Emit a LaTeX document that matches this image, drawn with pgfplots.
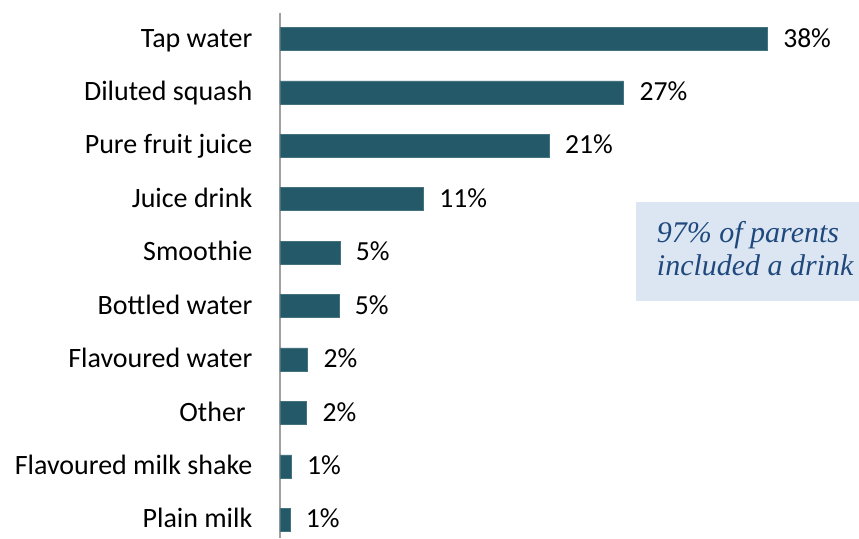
\documentclass[border=0pt]{standalone}
\usepackage{pgfplots}
\pgfplotsset{compat=1.18}
\usepackage{fontspec}
\setmainfont{Carlito}
\newfontfamily\boxfont{Liberation Serif}
\definecolor{barteal}{RGB}{35,89,104}
\definecolor{boxblue}{RGB}{220,230,242}
\definecolor{boxtext}{RGB}{31,73,125}
\definecolor{axisgray}{RGB}{160,160,160}
\begin{document}
\begin{tikzpicture}
\begin{axis}[
    name=ax,
    xbar,
    bar width=11.5pt,
    scale only axis,
    width=256.6pt,
    height=262.65pt,
    xmin=0, xmax=40,
    ymin=-0.49, ymax=9.34,
    y dir=reverse,
    axis x line=none,
    axis y line*=left,
    y axis line style={draw=axisgray, line width=0.6pt},
    ytick={0,1,2,3,4,5,6,7,8,9},
    yticklabels={Tap water,Diluted squash,Pure fruit juice,Juice drink,Smoothie,Bottled water,Flavoured water,Other\kern3.3pt,Flavoured milk shake,Plain milk},
    major tick length=0pt,
    yticklabel style={font=\fontsize{14}{16}\selectfont, anchor=base east, inner sep=0pt, xshift=-13.6pt, yshift=-4.1pt},
    point meta=x,
    nodes near coords={\pgfmathprintnumber[fixed,precision=0,assume math mode=true]{\pgfplotspointmeta}\%},
    every node near coord/.append style={font=\fontsize{13.8}{16}\selectfont, black, anchor=base west, inner sep=0pt, xshift=7.8pt, yshift=-4.1pt},
    clip=false,
]
\addplot[fill=barteal, draw=barteal!85!white, line width=0.3pt] coordinates {
    (38.0,0)
    (26.8,1)
    (21.0,2)
    (11.2,3)
    (4.68,4)
    (4.60,5)
    (2.16,6)
    (2.08,7)
    (0.89,8)
    (0.78,9)
};
\fill[boxblue] (axis cs:27.75,3.049) rectangle (axis cs:45.13,4.907);
\node[anchor=base west, inner sep=0pt, text=boxtext, font=\boxfont\itshape\fontsize{15}{16.5}\selectfont] at (axis cs:29.36,3.809) {97\% of parents};
\node[anchor=base west, inner sep=0pt, text=boxtext, font=\boxfont\itshape\fontsize{15}{16.5}\selectfont] at (axis cs:29.36,4.421) {included a drink};
\end{axis}
\path ([xshift=-140pt]ax.south west) rectangle ([xshift=33pt,yshift=6.35pt]ax.north east);
\end{tikzpicture}
\end{document}
